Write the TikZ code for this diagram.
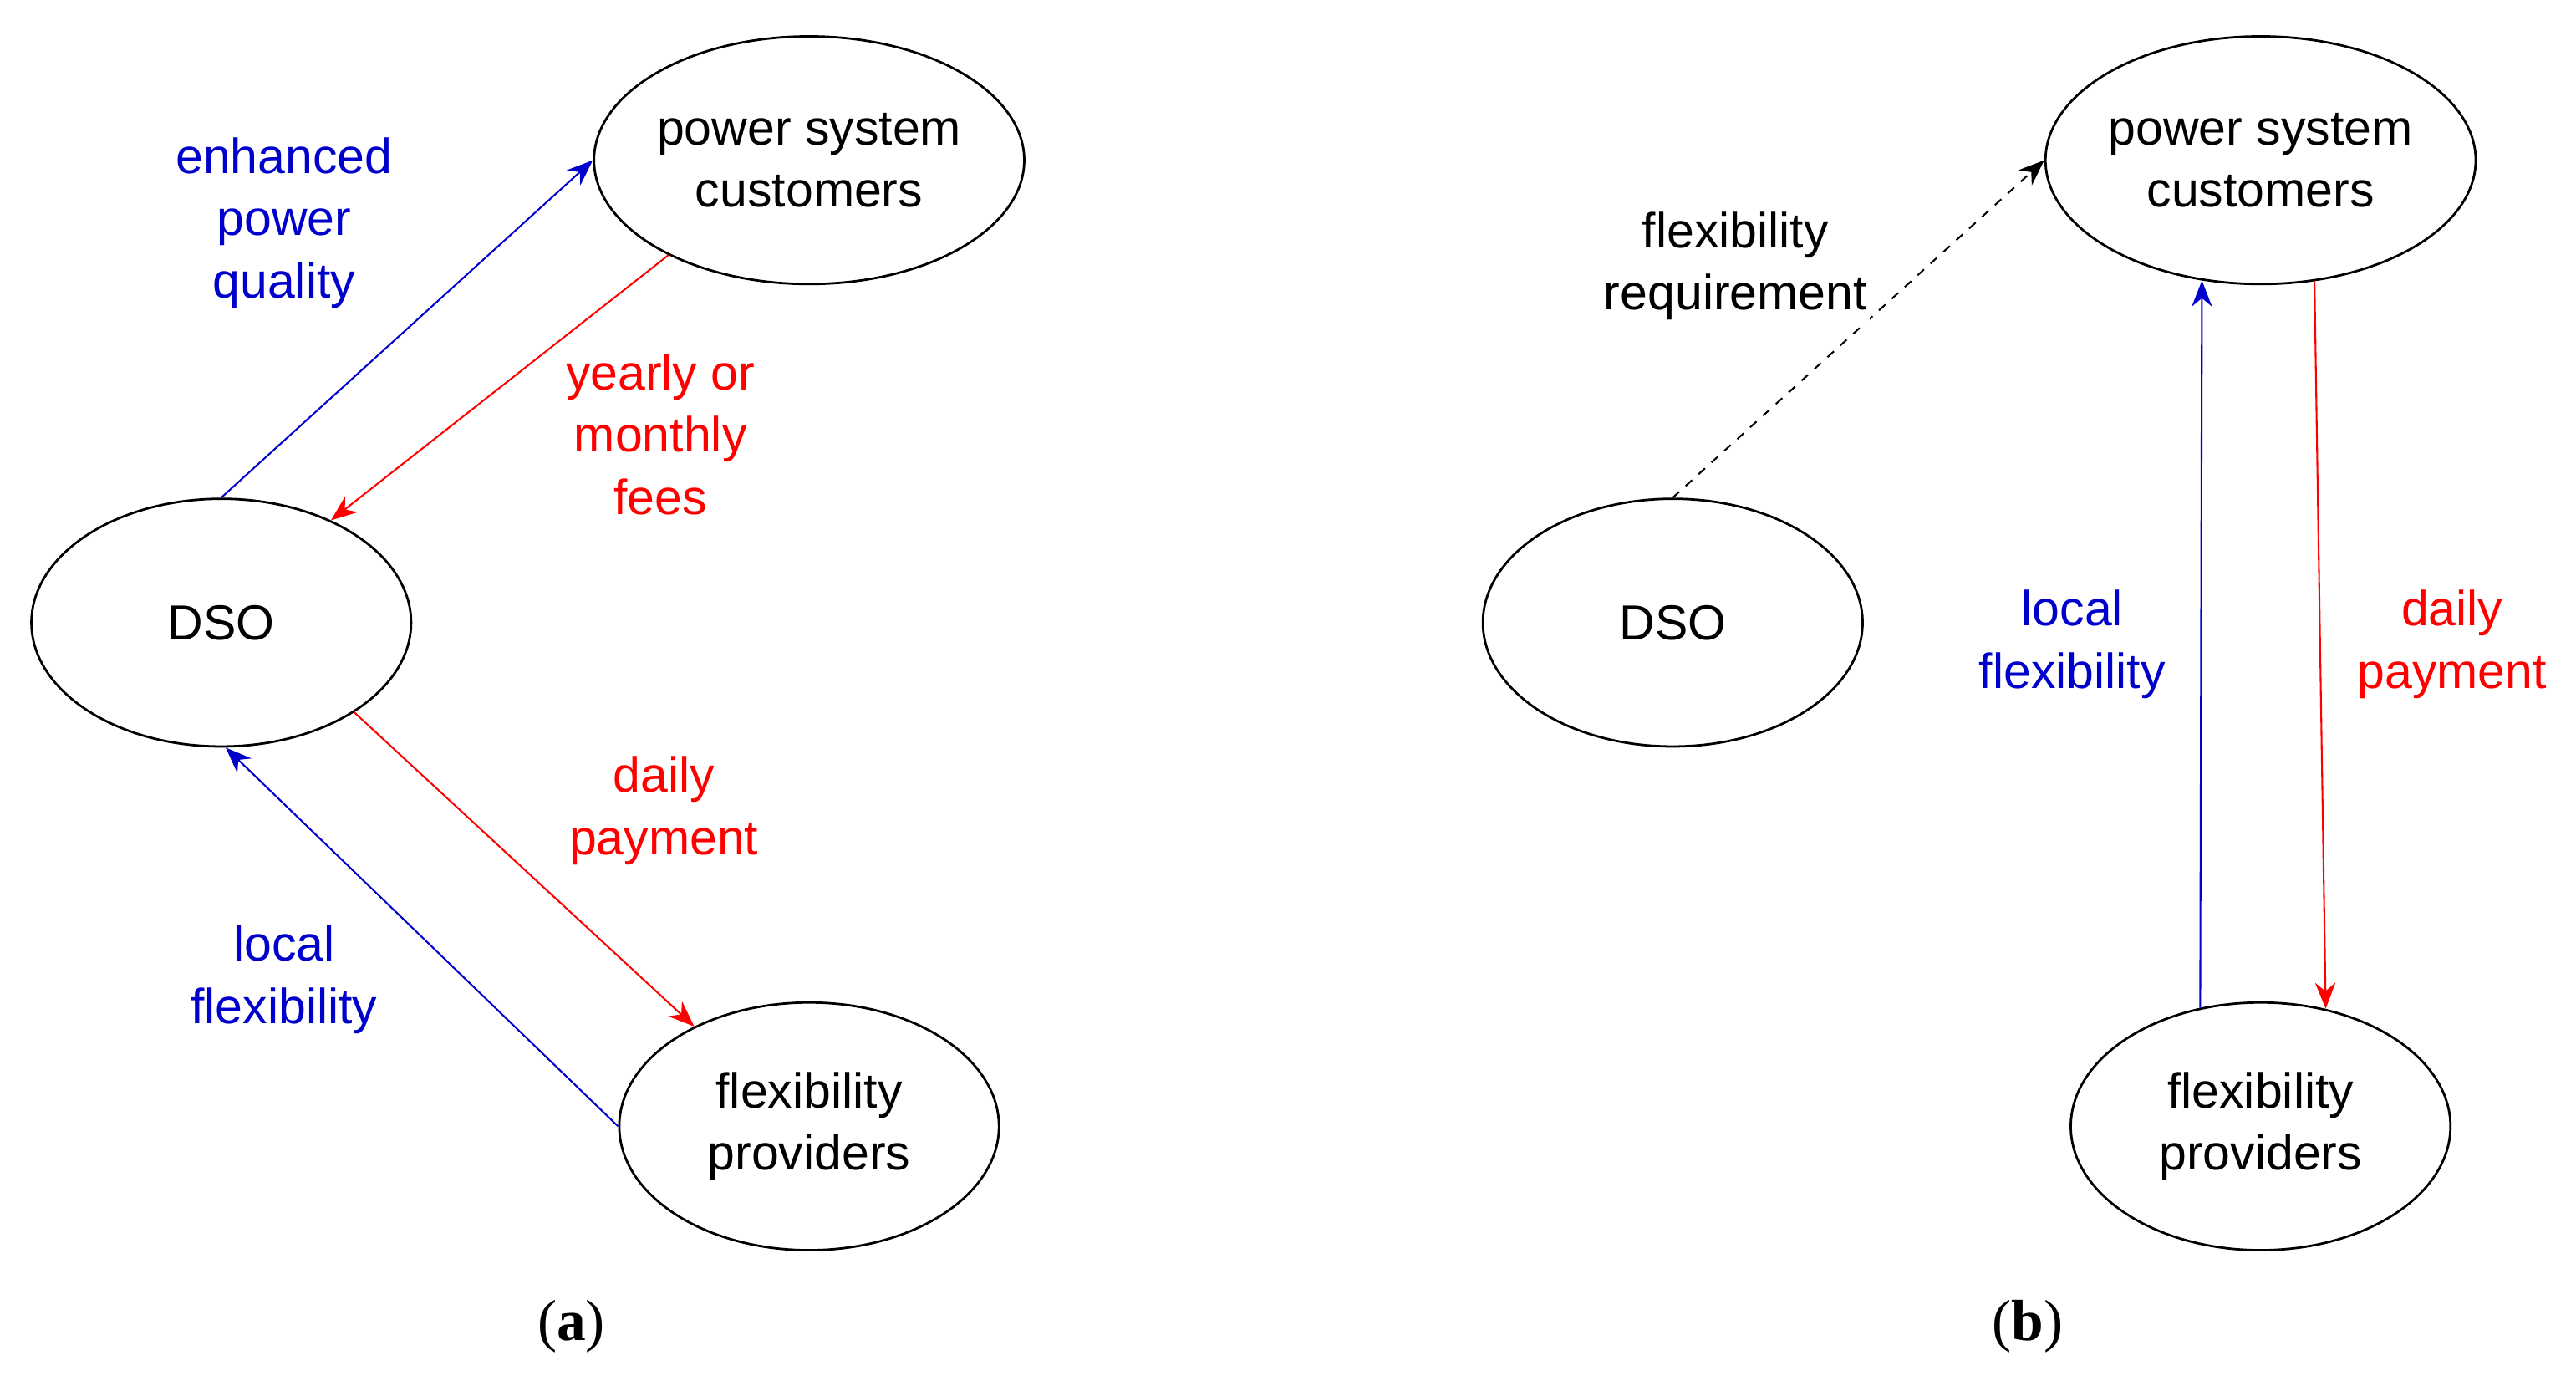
\documentclass[tikz,border=0pt]{standalone}
\usepackage{fontspec}
\setmainfont{Liberation Sans}
\newfontfamily\capfont{Liberation Serif}
\usetikzlibrary{shapes.geometric,arrows.meta}
\definecolor{flowblue}{HTML}{0000CC}
\definecolor{flowred}{HTML}{FF0000}

\begin{document}
\begin{tikzpicture}[x=0.02cm, y=-0.02cm,
    every node/.style={font=\fontsize{17}{21.5}\selectfont},
    actor/.style={ellipse, draw, thick, minimum width=4.6cm, minimum height=3cm, inner sep=0pt, align=center},
    lbl/.style={align=center},
    arrow/.style={-{Stealth[length=9pt,width=7pt]}, semithick}
]
  \useasboundingbox (0,0) rectangle (1560,839);
  % Panel (a)
  \node[actor] (dsoA) at (134,377) {DSO};
  \node[actor] (pscA) at (490,97) {power system\\customers};
  \node[actor] (fpA) at (490,682) {flexibility\\providers};

  \draw[arrow, flowblue] (dsoA.90) -- (pscA.180);
  \draw[arrow, flowred] (pscA.214) -- (dsoA.43);
  \draw[arrow, flowred] (dsoA.-34) -- (fpA.139);
  \draw[arrow, flowblue] (fpA.180) -- (dsoA.-88);

  \node[lbl, flowblue] (qualA) at (172,135) {enhanced\\power\\quality};
  \node[lbl, flowred] (feesA) at (400,263) {yearly or\\monthly\\fees};
  \node[lbl, flowred] (payA) at (402,491) {daily\\payment};
  \node[lbl, flowblue] (flexA) at (172,593) {local\\flexibility};
  \node[font=\capfont\fontsize{20}{24}\selectfont] (capA) at (346,803) {(\textbf{a})};

  % Panel (b)
  \node[actor] (dsoB) at (1013,377) {DSO};
  \node[actor] (pscB) at (1369,97) {power system\\customers};
  \node[actor] (fpB) at (1369,682) {flexibility\\providers};

  \draw[arrow, dashed] (dsoB.90) -- (pscB.180);
  \draw[arrow, flowblue] (fpB.117) -- (pscB.244);
  \draw[arrow, flowred] (pscB.294) -- (fpB.61);

  \node[lbl, fill=white, inner sep=1pt] (reqB) at (1051,161) {flexibility\\requirement};
  \node[lbl, flowblue] (flexB) at (1255,390) {local\\flexibility};
  \node[lbl, flowred] (payB) at (1485,390) {daily\\payment};
  \node[font=\capfont\fontsize{20}{24}\selectfont] (capB) at (1228,803) {(\textbf{b})};
\end{tikzpicture}
\end{document}
